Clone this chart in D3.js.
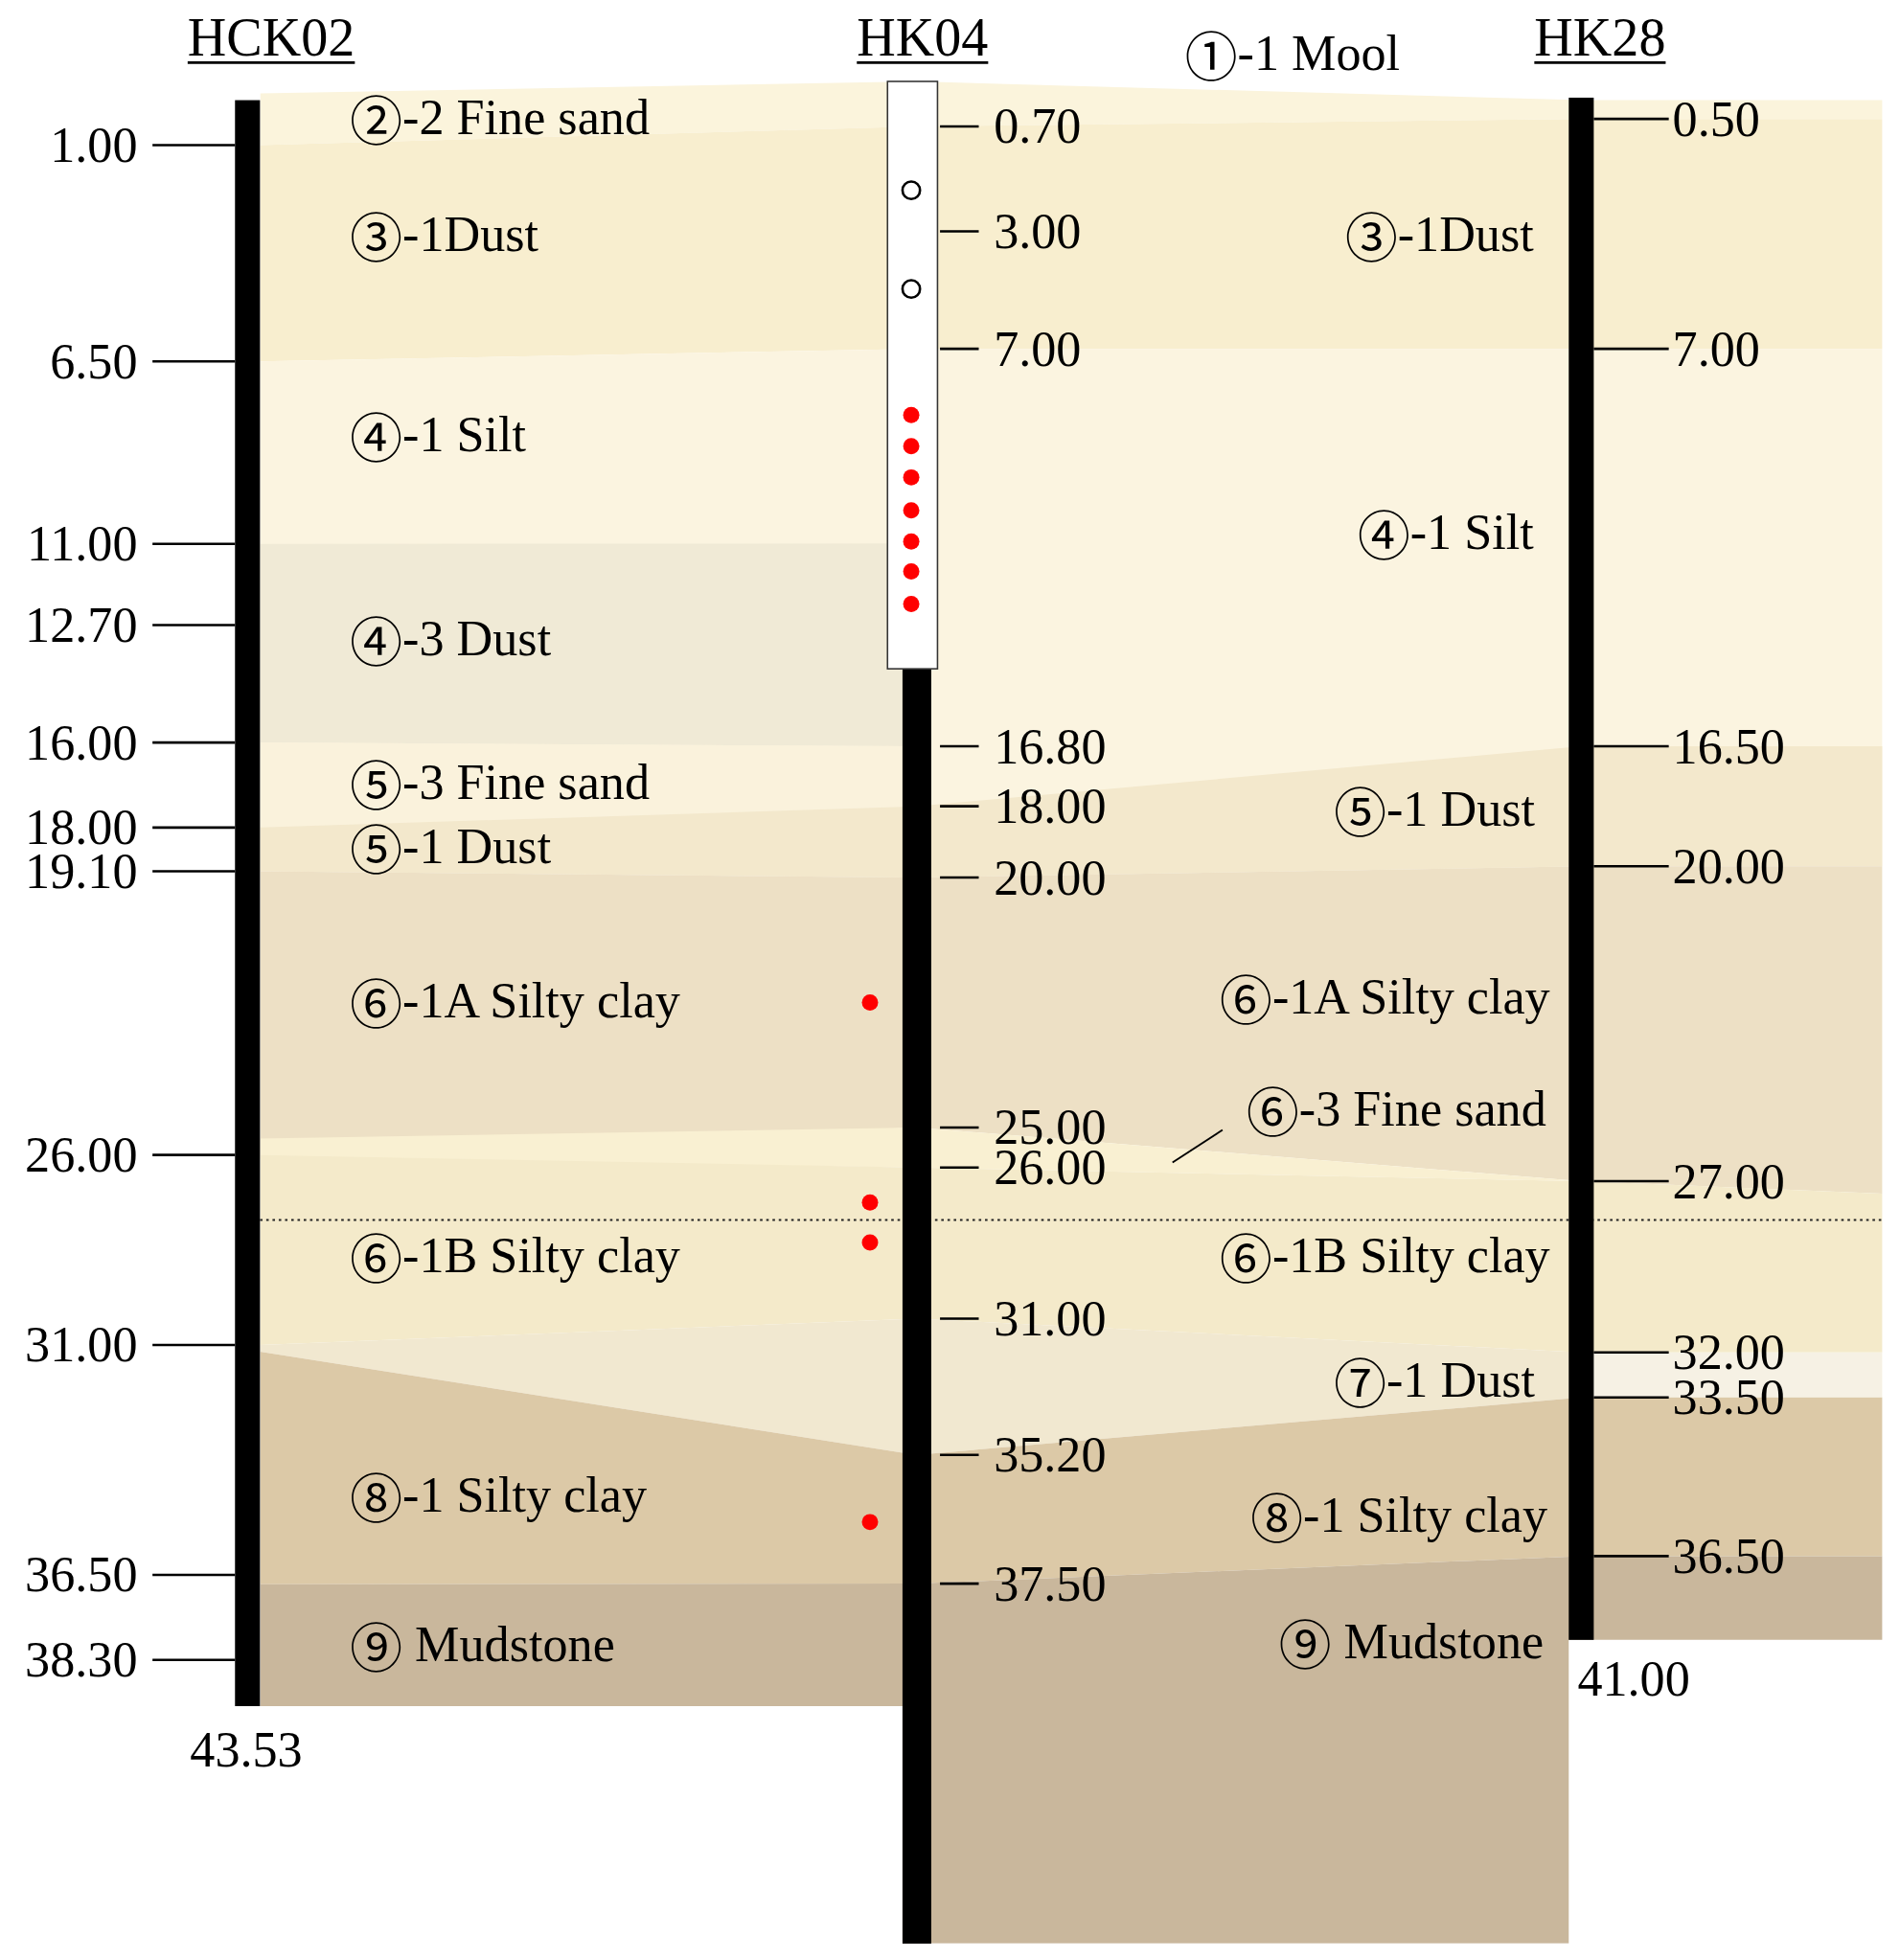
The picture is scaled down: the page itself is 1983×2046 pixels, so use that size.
<!DOCTYPE html>
<html><head><meta charset="utf-8">
<script src="https://cdn.jsdelivr.net/npm/d3@7"></script>
<style>body{margin:0;background:#fff}</style></head>
<body><svg id="c" width="1983" height="2046" viewBox="0 0 1520 1568"></svg>
<script>
// Borehole tick depths (m) and their schematic positions
const hck02Depths = [0, 1.00, 6.50, 11.00, 12.70, 16.00, 18.00, 19.10, 26.00, 31.00, 36.50, 38.30, 43.53];
const hck02Pos    = [80, 116, 289, 435, 500, 594, 662, 697, 924, 1076, 1260, 1328, 1365];
const hk04Depths  = [0, 0.70, 3.00, 7.00, 16.80, 18.00, 20.00, 25.00, 26.00, 31.00, 35.20, 37.50, 48];
const hk04Pos     = [65, 101, 185, 279, 597, 645, 702, 902, 934, 1055, 1164, 1267, 1555];
const hk28Depths  = [0, 0.50, 7.00, 16.50, 20.00, 27.00, 32.00, 33.50, 36.50, 41.00];
const hk28Pos     = [80, 95, 279, 597, 693, 945, 1082, 1118, 1245, 1312];
const hck02Ticks = ["1.00","6.50","11.00","12.70","16.00","18.00","19.10","26.00","31.00","36.50","38.30"];
const hk04Ticks  = ["0.70","3.00","7.00","16.80","18.00","20.00","25.00","26.00","31.00","35.20","37.50"];
const hk28Ticks  = ["0.50","7.00","16.50","20.00","27.00","32.00","33.50","36.50"];
// layers: stations (0=HCK02,1=HK04,2=HK28,3=right edge), top depths, bottom depths
const layerNames  = ["top","3-1","4-1","4-3","5-3","5-1","6-1A","6-3","6-1B","7-1","7-1r","8-1","9"];
const layerColors = ["#fbf4dc","#f8eecf","#fbf4e0","#f0ead6","#faf2dc","#f3e8cc","#ede0c5","#f9f0d2","#f4eaca","#f1e8d0","#f6f1e4","#dcc9a7","#c9b79c"];
const layerSt  = [[0,1,2,3],[0,1,2,3],[0,1,2,3],[0,1],[0,1],[0,1,2,3],[0,1,2,3],[0,1,2],[0,1,2,3],[0,1,2],[2,3],[0,1,2,3],[0,1,2,3]];
const layerTop = [[-0.15,0,0,0],[1,0.7,0.5,0.5],[6.5,7,7,7],[11,11.8],[16,16.8],[18,18,16.5,16.5],[19.1,20,20,20],[25.6,25,27],[26,26,27,27.36],[31,31,32],[32,32],[31.16,35.2,33.5,33.5],[36.7,37.5,36.5,36.5]];
const layerBot = [[1,0.7,0.5,0.5],[6.5,7,7,7],[19.1,20,20,20],[16,16.8],[18,18],[19.1,20,20,20],[26,25,27,27.36],[26.1,26,27],[31,31,32,32],[31.16,35.2,33.5],[33.5,33.5],[36.7,37.5,36.5,36.5],[100,100,100,100]];
const leftLabels  = [["②","-2 Fine sand",93],["③","-1Dust",187],["④","-1 Silt",347],["④","-3 Dust",510],["⑤","-3 Fine sand",625],["⑤","-1 Dust",677],["⑥","-1A Silty clay",800],["⑥","-1B Silty clay",1004],["⑧","-1 Silty clay",1196],["⑨"," Mudstone",1315]];
const rightLabels = [["③","-1Dust",187,1227],["④","-1 Silt",425,1227],["⑤","-1 Dust",647,1228],["⑥","-1A Silty clay",797,1240],["⑥","-3 Fine sand",887,1237],["⑥","-1B Silty clay",1004,1240],["⑦","-1 Dust",1104,1228],["⑧","-1 Silty clay",1212,1238],["⑨"," Mudstone",1313,1235]];
const openSamples = [2.1, 4.96];
const redSamplesTube = [8.63, 9.40, 10.17, 10.98, 11.75, 12.49, 13.29];
const redSamplesSide = [22.5, 27.16, 28.48, 36.4];

const svg = d3.select("#c");
const F = "'Liberation Serif', 'DejaVu Serif', serif";
const sHCK = d3.scaleLinear().domain(hck02Depths).range(hck02Pos);
const sHK04 = d3.scaleLinear().domain(hk04Depths).range(hk04Pos);
const sHK28 = d3.scaleLinear().domain(hk28Depths).range(hk28Pos);
const stScale = [sHCK, sHK04, sHK28, sHK28];
const stX = [208, 733, 1265, 1506];

const defs = svg.append("defs");
const cp = defs.append("clipPath").attr("id","prof");
cp.append("rect").attr("x",208).attr("y",0).attr("width",520).attr("height",1365);
cp.append("rect").attr("x",722).attr("y",0).attr("width",533).attr("height",1555);
cp.append("rect").attr("x",1255).attr("y",0).attr("width",251).attr("height",1312);

const g = svg.append("g").attr("clip-path","url(#prof)");
layerNames.forEach((n,i)=>{
  const st = layerSt[i];
  const topPts = st.map((s,k)=>[stX[s], stScale[s](layerTop[i][k])]);
  const botPts = st.map((s,k)=>[stX[s], stScale[s](layerBot[i][k])]).reverse();
  g.append("path").attr("d", d3.line()(topPts.concat(botPts))+"Z").attr("fill", layerColors[i]);
});
svg.append("line").attr("x1",208).attr("x2",1506).attr("y1",976).attr("y2",976)
  .attr("stroke","#222").attr("stroke-width",1.5).attr("stroke-dasharray","2,3");

const TS = 40;
svg.append("rect").attr("x",188).attr("y",sHCK(0)).attr("width",20).attr("height",sHCK(43.53)-sHCK(0)).attr("fill","#000");
hck02Ticks.forEach(t=>{const y=sHCK(+t);
  svg.append("line").attr("x1",122).attr("x2",188).attr("y1",y).attr("y2",y).attr("stroke","#000").attr("stroke-width",2);
  svg.append("text").attr("x",110).attr("y",y).attr("text-anchor","end").attr("dominant-baseline","central").attr("font-family",F).attr("font-size",TS).text(t);});
svg.append("text").attr("x",197).attr("y",1400).attr("text-anchor","middle").attr("dominant-baseline","central").attr("font-family",F).attr("font-size",TS).text("43.53");

svg.append("rect").attr("x",722).attr("y",535).attr("width",23).attr("height",sHK04(48)-535).attr("fill","#000");
svg.append("rect").attr("x",710).attr("y",sHK04(0)).attr("width",40).attr("height",535-sHK04(0)).attr("fill","#fff").attr("stroke","#333").attr("stroke-width",1.2);
hk04Ticks.forEach(t=>{const y=sHK04(+t);
  svg.append("line").attr("x1",752).attr("x2",783).attr("y1",y).attr("y2",y).attr("stroke","#000").attr("stroke-width",2);
  svg.append("text").attr("x",795).attr("y",y).attr("dominant-baseline","central").attr("font-family",F).attr("font-size",TS).text(t);});
openSamples.forEach(d=>svg.append("circle").attr("cx",729).attr("cy",sHK04(d)).attr("r",7).attr("fill","#fff").attr("stroke","#000").attr("stroke-width",2));
redSamplesTube.forEach(d=>svg.append("circle").attr("cx",729).attr("cy",sHK04(d)).attr("r",6.5).attr("fill","#f00"));
redSamplesSide.forEach(d=>svg.append("circle").attr("cx",696).attr("cy",sHK04(d)).attr("r",6.5).attr("fill","#f00"));

svg.append("rect").attr("x",1255).attr("y",sHK28(0)-2).attr("width",20).attr("height",sHK28(41)-sHK28(0)+2).attr("fill","#000");
hk28Ticks.forEach(t=>{const y=sHK28(+t);
  svg.append("line").attr("x1",1275).attr("x2",1335).attr("y1",y).attr("y2",y).attr("stroke","#000").attr("stroke-width",2);
  svg.append("text").attr("x",1338).attr("y",y).attr("dominant-baseline","central").attr("font-family",F).attr("font-size",TS).text(t);});
svg.append("text").attr("x",1262).attr("y",1343).attr("dominant-baseline","central").attr("font-family",F).attr("font-size",TS).text("41.00");

[["HCK02",217],["HK04",738],["HK28",1280]].forEach(([t,x])=>{
  const tx=svg.append("text").attr("x",x).attr("y",30).attr("text-anchor","middle").attr("dominant-baseline","central").attr("font-family",F).attr("font-size",43).text(t);
  const w=tx.node().getComputedTextLength();
  svg.append("line").attr("x1",x-w/2).attr("x2",x+w/2).attr("y1",50).attr("y2",50).attr("stroke","#000").attr("stroke-width",2);
});
function lab(c, rest, x, y, anchor){
  const t=svg.append("text").attr("x",x).attr("y",y).attr("text-anchor",anchor).attr("dominant-baseline","central").attr("font-family",F).attr("font-size",40);
  t.append("tspan").attr("font-family","'Noto Sans CJK JP', 'Noto Sans CJK SC', sans-serif").attr("font-size",42).text(c);
  t.append("tspan").text(rest);
}
lab("①","-1 Mool",948,42,"start");
leftLabels.forEach(([c,t,y])=>lab(c,t,280,y,"start"));
rightLabels.forEach(([c,t,y,x])=>lab(c,t,x,y,"end"));
svg.append("line").attr("x1",938).attr("y1",930).attr("x2",978).attr("y2",904).attr("stroke","#000").attr("stroke-width",1.5);
</script></body></html>
